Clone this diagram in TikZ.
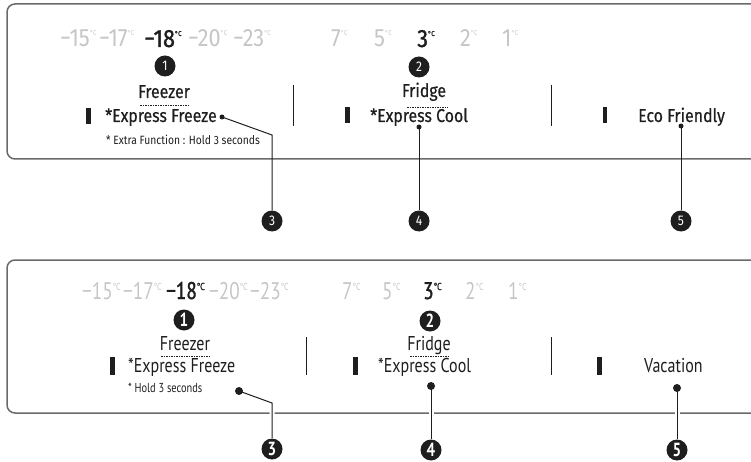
\documentclass[tikz,border=0pt]{standalone}
\usepackage{fontspec}
\setmainfont{Fira Sans}
\newfontfamily\topf[FakeStretch=0.86,FakeBold=0.5]{Fira Sans}
\newfontfamily\topn[FakeStretch=0.86]{Fira Sans}
\newfontfamily\botf[FakeStretch=0.8]{PT Sans}
\newfontfamily\ttf[FakeStretch=0.87]{Fira Sans}
\newfontfamily\ttfb[FakeStretch=0.87,FakeBold=1.2]{Fira Sans}
\newfontfamily\btf[FakeStretch=0.8]{PT Sans}
\newfontfamily\btfb[FakeStretch=0.8,FakeBold=1.5]{PT Sans}
\definecolor{ink}{HTML}{1E1E1E}
\definecolor{dim}{HTML}{C6C6C6}
\definecolor{frame}{HTML}{6A6A6A}
\tikzset{
  panel/.style={draw=frame,line width=1.5pt,rounded corners=8pt},
  sep/.style={draw=ink,line width=1pt},
  bar/.style={fill=ink,draw=none},
  num/.style={circle,fill=ink,text=white,minimum size=21pt,inner sep=0pt,font=\topn\fontsize{14}{14}\selectfont},
  numB/.style={num,font=\botf\fontsize{19}{19}\selectfont\bfseries},
  dotA/.style={circle,fill=ink,minimum size=5pt,inner sep=0pt},
  dotB/.style={circle,fill=ink,minimum size=8pt,inner sep=0pt},
  conn/.style={draw=ink,line width=1pt},
  connB/.style={draw=ink,line width=1pt,preaction={draw=white,line width=5pt}},
  ttemp/.style={anchor=base west,inner sep=0pt,text=dim,font=\ttf\fontsize{25}{25}\selectfont},
  ttempon/.style={ttemp,text=ink,font=\ttfb\fontsize{25}{25}\selectfont},
  btemp/.style={anchor=base west,inner sep=0pt,text=dim,font=\btf\fontsize{24}{24}\selectfont},
  btempon/.style={btemp,text=ink,font=\btfb\fontsize{24}{24}\selectfont},
  tlab/.style={anchor=base west,inner sep=0pt,font=\topf\fontsize{18.5}{18.5}\selectfont,text=ink},
  tlabc/.style={anchor=base,inner sep=0pt,font=\topf\fontsize{18.5}{18.5}\selectfont,text=ink},
  blab/.style={anchor=base west,inner sep=0pt,font=\botf\fontsize{20}{20}\selectfont,text=ink},
  blabc/.style={anchor=base,inner sep=0pt,font=\botf\fontsize{20}{20}\selectfont,text=ink},
  dotline/.style={draw=ink,line width=0.8pt,dash pattern=on 1.5pt off 1pt},
}
\newcommand{\tdeg}{\raisebox{11pt}{\fontsize{7}{7}\selectfont°C}}
\newcommand{\bdeg}{\raisebox{9pt}{\fontsize{10}{10}\selectfont°C}}
\begin{document}
\begin{tikzpicture}[x=1pt,y=-1pt]
\useasboundingbox (0,0) rectangle (751,462);
% ---------- top panel ----------
\draw[panel] (760,4) -- (7,4) -- (7,159) -- (760,159);
\node[ttemp] (t15) at (60,47) {−15\tdeg};
\node[ttemp] (t17) at (99,47) {−17\tdeg};
\node[ttempon] (t18) at (144,47) {−18\tdeg};
\node[ttemp] (t20) at (188,47) {−20\tdeg};
\node[ttemp] (t23) at (233,47) {−23\tdeg};
\node[ttemp] (t7) at (331,47) {7\tdeg};
\node[ttemp] (t5) at (374,47) {5\tdeg};
\node[ttempon] (t3) at (417,47) {3\tdeg};
\node[ttemp] (t2) at (460,47) {2\tdeg};
\node[ttemp] (t1) at (502,47) {1\tdeg};
\node[num] (a1) at (165,66) {1};
\node[num] (a2) at (419,67) {2};
\node[tlabc] (afz) at (164,98) {Freezer};
\draw[dotline] (140,105) -- (190,105);
\fill[bar] (86,108) rectangle (91,124);
\node[tlab] (aef) at (105,122) {*Express Freeze};
\node[anchor=base west,inner sep=0pt,font=\topn\fontsize{12}{12}\selectfont,text=ink] (aex) at (106,145) {* Extra Function : Hold 3 seconds};
\draw[sep] (293,85) -- (293,126);
\node[tlabc] (afr) at (424,97) {Fridge};
\draw[dotline] (407,107) -- (448,107);
\fill[bar] (345,107) rectangle (350,123);
\node[tlab] (aec) at (370,122) {*Express Cool};
\draw[sep] (551,85) -- (551,126);
\fill[bar] (603,107) rectangle (607,123);
\node[tlab] (aeco) at (638,122) {Eco Friendly};
\node[num] (a3) at (272,221) {3};
\node[num] (a4) at (419,221) {4};
\node[num] (a5) at (681,221) {5};
\coordinate (ap3) at (222,117);
\coordinate (ap4) at (419,127);
\coordinate (ap5) at (681,126);
\coordinate (ab3) at (272,135);
\draw[conn] (ap3) -- (ab3) -- (a3);
\draw[conn] (ap4) -- (a4);
\draw[conn] (ap5) -- (a5);
\node[dotA] (ad3) at (ap3) {};
\node[dotA] (ad4) at (ap4) {};
\node[dotA] (ad5) at (ap5) {};
% ---------- bottom panel ----------
\draw[panel] (760,260) -- (7,260) -- (7,413) -- (760,413);
\node[btemp] (b15) at (82,299) {−15\bdeg};
\node[btemp] (b17) at (123,299) {−17\bdeg};
\node[btempon] (b18) at (166,299) {−18\bdeg};
\node[btemp] (b20) at (209,299) {−20\bdeg};
\node[btemp] (b23) at (250,299) {−23\bdeg};
\node[btemp] (b7) at (342,299) {7\bdeg};
\node[btemp] (b5) at (382,299) {5\bdeg};
\node[btempon] (b3) at (423,299) {3\bdeg};
\node[btemp] (b2) at (465,299) {2\bdeg};
\node[btemp] (b1) at (508,299) {1\bdeg};
\node[numB] (c1) at (184,320) {1};
\node[numB] (c2) at (430,321) {2};
\node[blabc] (bfz) at (185,350) {Freezer};
\draw[dotline] (161,356) -- (210,356);
\fill[bar] (110,357) rectangle (115,375);
\node[blab] (bef) at (128,372) {*Express Freeze};
\node[anchor=base west,inner sep=0pt,font=\botf\fontsize{13}{13}\selectfont,text=ink] (bex) at (128,392) {* Hold 3 seconds};
\draw[sep] (306,337) -- (306,375);
\node[blabc] (bfr) at (429,350) {Fridge};
\draw[dotline] (410,356) -- (449,356);
\fill[bar] (353,357) rectangle (358,375);
\node[blab] (bec) at (378,372) {*Express Cool};
\draw[sep] (551,337) -- (551,375);
\fill[bar] (597,357) rectangle (602,375);
\node[blab] (bva) at (644,372) {Vacation};
\node[numB] (c3) at (272,449) {3};
\node[numB] (c4) at (431,450) {4};
\node[numB] (c5) at (677,450) {5};
\coordinate (bp3) at (239,391);
\coordinate (bp4) at (431,386);
\coordinate (bp5) at (677,388);
\coordinate (bb3) at (272,403);
\draw[connB] (bp3) -- (bb3) -- (c3);
\draw[connB] (bp4) -- (c4);
\draw[connB] (bp5) -- (c5);
\node[dotB] (bd3) at (bp3) {};
\node[dotB] (bd4) at (bp4) {};
\node[dotB] (bd5) at (bp5) {};
\end{tikzpicture}
\end{document}
